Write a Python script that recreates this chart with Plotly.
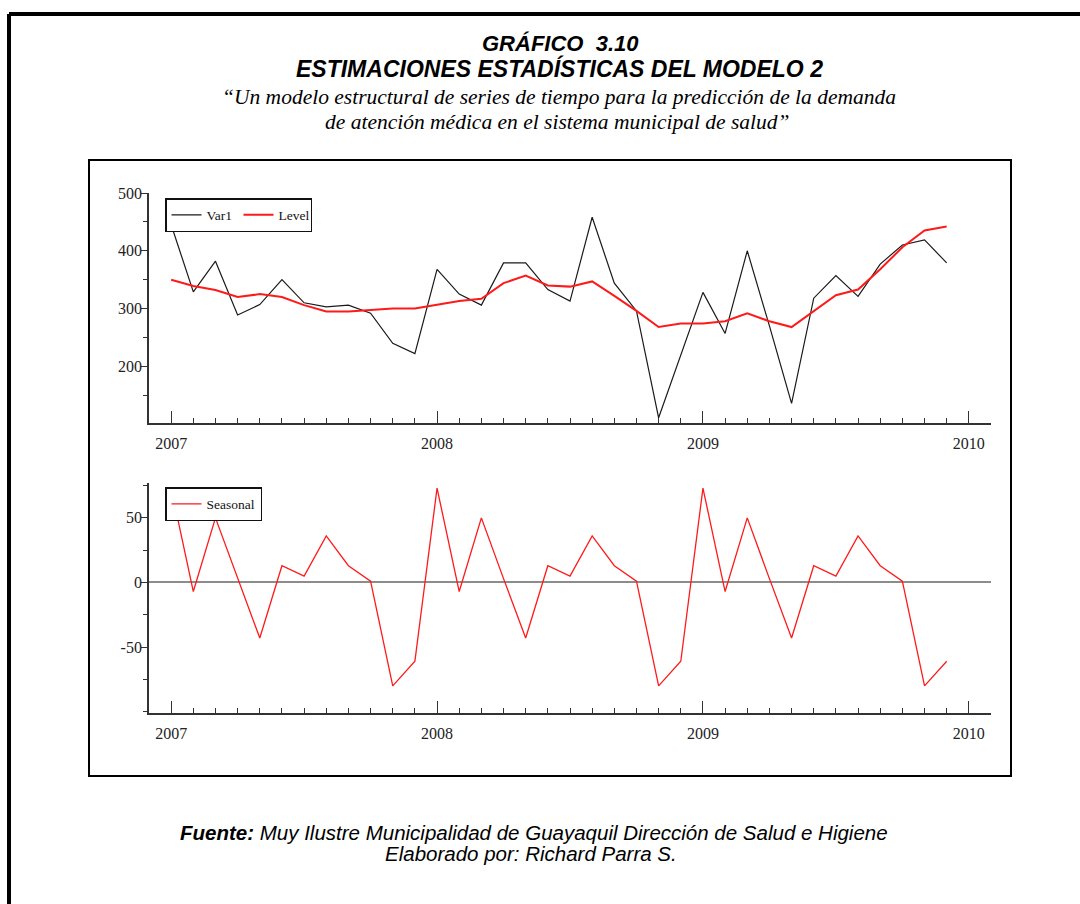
import plotly.graph_objects as go

# Monthly index: 0 = Jan 2007 ... 35 = Dec 2009
months = list(range(36))
year_ticks = [0, 12, 24, 36]
year_labels = ["2007", "2008", "2009", "2010"]

var1 = [445, 329, 382, 289, 307, 350, 310, 303, 306, 292, 240, 222,
        368, 325, 306, 379, 379, 333, 313, 458, 344, 296, 111, 219,
        328, 257, 400, 270, 136, 318, 357, 321, 377, 410, 419, 379]

level = [350, 339, 332, 320, 325, 320, 306, 295, 295, 297, 300, 300,
         306, 313, 317, 344, 357, 340, 338, 347, 322, 296, 268, 274,
         274, 278, 292, 278, 268, 296, 323, 333, 368, 406, 435, 442]

seasonal = [73, -7, 50, 3, -43, 13, 5, 36, 13, 1, -80, -61,
            73, -7, 50, 3, -43, 13, 5, 36, 13, 1, -80, -61,
            73, -7, 50, 3, -43, 13, 5, 36, 13, 1, -80, -61]

top_ticks = [200, 300, 400, 500]
seas_ticks = [-50, 0, 50]
seas_labels = ["-50", "0", "50"]

W, H = 1080, 904


def px_x(p):
    return p / W


def px_y(p):
    return 1 - p / H


SERIF = "Liberation Serif, Times New Roman, serif"
SANS = "Liberation Sans, Arial, sans-serif"
AXIS_COL = "#333333"

fig = go.Figure()

fig.add_trace(go.Scatter(x=months, y=var1, mode="lines", name="Var1",
                         line=dict(color="#1a1a1a", width=1.2),
                         xaxis="x", yaxis="y", legend="legend"))
fig.add_trace(go.Scatter(x=months, y=level, mode="lines", name="Level",
                         line=dict(color="#ff1a1a", width=2),
                         xaxis="x", yaxis="y", legend="legend"))
fig.add_trace(go.Scatter(x=months, y=seasonal, mode="lines", name="Seasonal",
                         line=dict(color="#ff1a1a", width=1.3),
                         xaxis="x2", yaxis="y2", legend="legend2"))

x_common = dict(
    range=[-1, 37], tickmode="array", tickvals=year_ticks, ticktext=year_labels,
    ticks="inside", ticklen=12, tickwidth=1.3, tickcolor=AXIS_COL,
    minor=dict(tickmode="linear", tick0=0, dtick=1, ticks="inside",
               ticklen=5, tickwidth=1.2, tickcolor=AXIS_COL, showgrid=False),
    showline=True, linecolor=AXIS_COL, linewidth=1.8, showgrid=False,
    zeroline=False, tickfont=dict(family=SERIF, size=16, color="#222"),
    ticklabelstandoff=5, automargin=False,
    domain=[px_x(149), px_x(991)], fixedrange=True,
)
y_common = dict(
    ticks="outside", ticklen=6, tickwidth=1.3, tickcolor=AXIS_COL,
    showline=True, linecolor=AXIS_COL, linewidth=1.8, showgrid=False,
    tickfont=dict(family=SERIF, size=16, color="#222"), fixedrange=True,
    ticklabelstandoff=-4, automargin=False,
)

legend_style = dict(xanchor="left", yanchor="top", orientation="h",
                    bgcolor="white", bordercolor="#111", borderwidth=1.5,
                    font=dict(family=SERIF, size=13.5, color="#111"),
                    itemwidth=30)

fig.update_layout(
    width=W, height=H, margin=dict(l=0, r=0, t=0, b=0, pad=0, autoexpand=False),
    paper_bgcolor="white", plot_bgcolor="white", showlegend=True,
    xaxis=dict(x_common, anchor="y"),
    yaxis=dict(y_common, anchor="x", range=[102, 500],
               tickmode="array", tickvals=top_ticks,
               minor=dict(tickmode="linear", tick0=150, dtick=50, ticks="outside",
                          ticklen=4, tickwidth=1.2, tickcolor=AXIS_COL, showgrid=False),
               zeroline=False, domain=[px_y(423), px_y(193)]),
    xaxis2=dict(x_common, anchor="y2"),
    yaxis2=dict(y_common, anchor="x2", range=[-101, 77],
                tickmode="array", tickvals=seas_ticks, ticktext=seas_labels,
                minor=dict(tickmode="linear", tick0=-75, dtick=25, ticks="outside",
                           ticklen=4, tickwidth=1.2, tickcolor=AXIS_COL, showgrid=False),
                zeroline=True, zerolinecolor="#8c8c8c", zerolinewidth=1.6,
                domain=[px_y(713), px_y(483)]),
    legend=dict(legend_style, x=px_x(165), y=px_y(198), entrywidth=27,
                entrywidthmode="pixels"),
    legend2=dict(legend_style, x=px_x(165), y=px_y(487)),
)

# Page frame (top and left edges) and the box around the two panels
fig.add_shape(type="line", xref="paper", yref="paper",
              x0=px_x(9), x1=1, y0=px_y(14), y1=px_y(14),
              line=dict(color="black", width=4))
fig.add_shape(type="line", xref="paper", yref="paper",
              x0=px_x(9), x1=px_x(9), y0=px_y(14), y1=0,
              line=dict(color="black", width=4))
fig.add_shape(type="rect", xref="paper", yref="paper",
              x0=px_x(89), x1=px_x(1011), y0=px_y(776), y1=px_y(160),
              line=dict(color="black", width=2))


def note(text, cx, cy, family, size, weight="normal", style="normal"):
    fig.add_annotation(text=text, xref="paper", yref="paper",
                       x=px_x(cx), y=px_y(cy), xanchor="center", yanchor="middle",
                       showarrow=False,
                       font=dict(family=family, size=size, color="black",
                                 weight=weight, style=style))


note("GRÁFICO  3.10", 560, 44, SANS, 22, "bold", "italic")
note("ESTIMACIONES ESTADÍSTICAS DEL MODELO 2", 559, 68, SANS, 23, "bold", "italic")
note("“Un modelo estructural de series de tiempo para la predicción de la demanda",
     559, 97, SERIF, 21.5, style="italic")
note("de atención médica en el sistema municipal de salud”",
     557, 122, SERIF, 21.5, style="italic")
note("<b>Fuente:</b> Muy Ilustre Municipalidad de Guayaquil Dirección de Salud e Higiene",
     534, 832, SANS, 20.5, style="italic")
note("Elaborado por: Richard Parra S.", 531, 853, SANS, 20.5, style="italic")

# Pin the figure to the top-left corner of the page
fig.write_html(
    "out.html",
    post_script=(
        "document.body.style.margin='0';"
        "var d=document.getElementById('{plot_id}');"
        "d.style.position='absolute';d.style.left='0px';d.style.top='0px';"
    ),
)
